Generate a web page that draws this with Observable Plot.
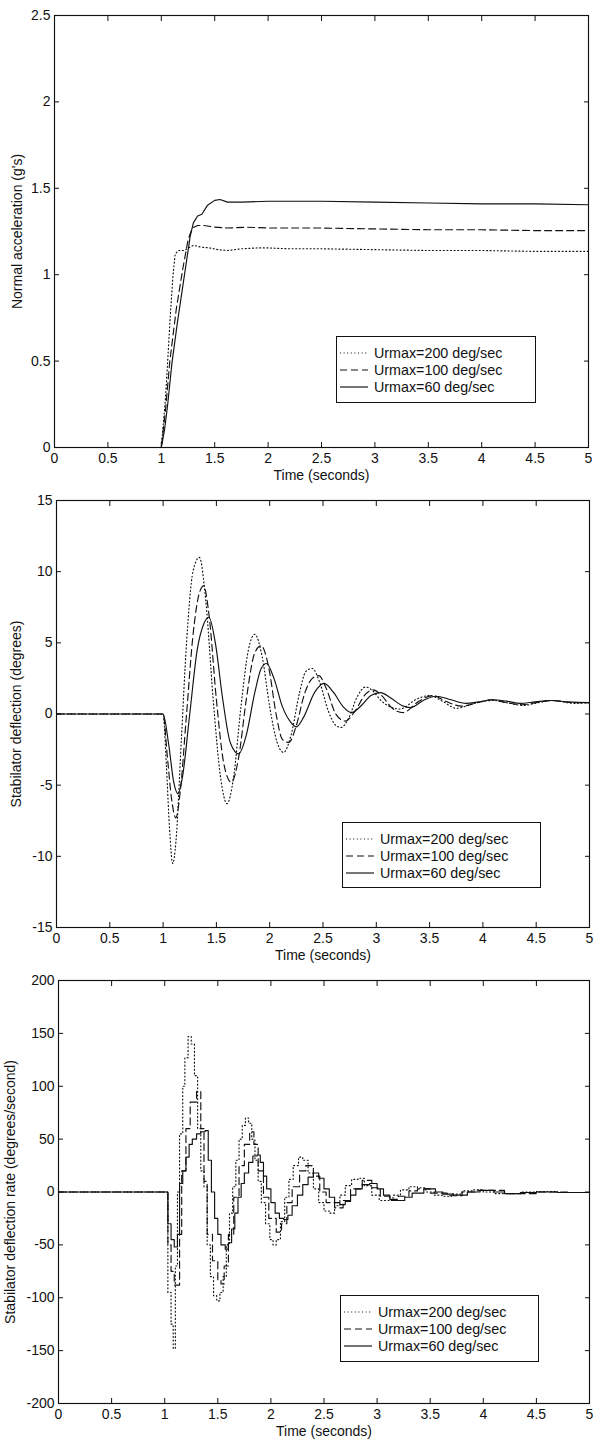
<!DOCTYPE html>
<html>
<head>
<meta charset="utf-8">
<script src="https://cdn.jsdelivr.net/npm/d3@7"></script>
<script src="https://cdn.jsdelivr.net/npm/@observablehq/plot@0.6"></script>
<style>
  html, body { margin: 0; padding: 0; background: #fff; }
  #wrap { width: 597px; }
  .panel { position: relative; width: 597px; }
  .panel + .panel { margin-top: -6px; }
  .panel svg { display: block; }
  .legend { position: absolute; background: #fff; border: 1px solid #111; box-sizing: border-box; }
  .legend svg { display: block; }
</style>
</head>
<body>
<div id="wrap"></div>
<script>
// ---------- tick values ----------
const xTicks = [0, 0.5, 1, 1.5, 2, 2.5, 3, 3.5, 4, 4.5, 5];
const accelTicks = [0, 0.5, 1, 1.5, 2, 2.5];
const deflTicks = [-15, -10, -5, 0, 5, 10, 15];
const rateTicks = [-200, -150, -100, -50, 0, 50, 100, 150, 200];
const seriesNames = ["Urmax=200 deg/sec", "Urmax=100 deg/sec", "Urmax=60 deg/sec"];

// ---------- panel 1: normal acceleration (g's) [time, value] ----------
const accel200 = [[0,0],[1.0,0],[1.04,0.29],[1.086,0.78],[1.11,1.0],[1.13,1.12],[1.16,1.14],[1.21,1.14],[1.3,1.17],[1.37,1.16],[1.45,1.155],[1.53,1.145],[1.62,1.14],[1.75,1.15],[1.9,1.155],[2.0,1.155],[2.2,1.15],[2.5,1.15],[3.0,1.145],[3.5,1.14],[4.0,1.14],[4.5,1.135],[5,1.135]];
const accel100 = [[0,0],[1.0,0],[1.04,0.22],[1.08,0.5],[1.14,0.8],[1.2,1.03],[1.25,1.2],[1.29,1.27],[1.34,1.285],[1.4,1.285],[1.5,1.275],[1.62,1.27],[1.8,1.275],[2.0,1.27],[2.5,1.27],[3.0,1.265],[3.5,1.26],[4.0,1.26],[4.5,1.255],[5,1.255]];
const accel60 = [[0,0],[1.0,0],[1.03,0.1],[1.06,0.25],[1.1,0.49],[1.15,0.72],[1.21,0.97],[1.27,1.22],[1.3,1.3],[1.34,1.34],[1.38,1.35],[1.43,1.4],[1.5,1.43],[1.55,1.435],[1.62,1.42],[1.75,1.42],[2.0,1.425],[2.5,1.425],[3.0,1.42],[3.5,1.415],[4.0,1.41],[4.5,1.41],[5,1.405]];

// ---------- panel 2: stabilator deflection (degrees) ----------
const defl200 = [[0,0],[1.0,0],[1.03,-3.5],[1.06,-8],[1.09,-10.5],[1.12,-9],[1.17,-2],[1.22,5],[1.28,10],[1.34,11],[1.4,8],[1.47,1],[1.54,-4.5],[1.6,-6.3],[1.66,-4.5],[1.73,0.5],[1.8,4.5],[1.86,5.6],[1.93,4],[2.0,0.5],[2.07,-2],[2.13,-2.7],[2.2,-1.5],[2.28,1.5],[2.34,3],[2.4,3.2],[2.47,2.2],[2.55,0.2],[2.62,-0.8],[2.67,-0.95],[2.74,-0.3],[2.82,1.2],[2.9,1.9],[2.97,1.6],[3.05,0.9],[3.22,0.35],[3.38,1.05],[3.5,1.3],[3.62,0.9],[3.75,0.4],[3.92,0.75],[4.09,0.95],[4.25,0.75],[4.38,0.6],[4.52,0.8],[4.66,0.95],[4.85,0.75],[5.0,0.8]];
const defl100 = [[0,0],[1.0,0],[1.04,-3],[1.08,-6],[1.12,-7.3],[1.16,-5.5],[1.22,0],[1.28,5.5],[1.34,8.5],[1.38,9],[1.43,7],[1.5,1],[1.57,-3.5],[1.64,-4.8],[1.71,-3],[1.78,1],[1.86,4.3],[1.92,4.8],[1.99,3.3],[2.06,0],[2.12,-1.8],[2.18,-2.0],[2.25,-0.8],[2.33,1.5],[2.4,2.5],[2.46,2.7],[2.53,1.8],[2.62,0],[2.71,-0.5],[2.8,0.2],[2.9,1.4],[2.97,1.7],[3.05,1.3],[3.15,0.4],[3.25,0.1],[3.4,0.9],[3.53,1.3],[3.65,0.9],[3.8,0.55],[3.95,0.8],[4.08,1.0],[4.22,0.8],[4.37,0.65],[4.5,0.8],[4.65,0.95],[4.85,0.8],[5,0.8]];
const defl60 = [[0,0],[1.0,0],[1.05,-2],[1.1,-4.8],[1.14,-5.6],[1.18,-4.5],[1.25,0],[1.32,4.5],[1.38,6.3],[1.43,6.8],[1.49,5],[1.56,1],[1.63,-2],[1.71,-2.8],[1.78,-1.5],[1.86,1.5],[1.92,3.2],[1.97,3.55],[2.04,2.5],[2.12,0.5],[2.2,-0.6],[2.25,-0.9],[2.32,-0.2],[2.42,1.5],[2.51,2.15],[2.6,1.5],[2.69,0.5],[2.77,0.1],[2.86,0.6],[2.95,1.3],[3.04,1.5],[3.14,1.1],[3.24,0.6],[3.32,0.45],[3.44,0.95],[3.56,1.25],[3.7,1.0],[3.84,0.75],[3.96,0.85],[4.09,1.0],[4.22,0.9],[4.35,0.75],[4.49,0.85],[4.63,0.95],[4.8,0.85],[5,0.8]];

// ---------- panel 3: stabilator deflection rate (degrees/second), sampled (step) ----------
const rate200 = [[0,0],[1.0,0],[1.03,-95],[1.06,-125],[1.08,-148],[1.1,-70],[1.12,0],[1.14,55],[1.17,100],[1.19,127],[1.22,147],[1.25,140],[1.28,110],[1.31,60],[1.34,20],[1.37,5],[1.4,-50],[1.43,-80],[1.46,-98],[1.49,-103],[1.52,-95],[1.55,-80],[1.58,-50],[1.61,-20],[1.64,5],[1.67,30],[1.7,50],[1.73,63],[1.76,70],[1.79,65],[1.82,50],[1.85,30],[1.88,10],[1.91,-10],[1.95,-30],[1.99,-45],[2.02,-50],[2.05,-45],[2.09,-28],[2.13,-5],[2.17,12],[2.21,25],[2.26,33],[2.3,30],[2.35,18],[2.4,3],[2.45,-10],[2.5,-18],[2.55,-20],[2.6,-13],[2.65,-3],[2.7,6],[2.76,12],[2.82,13],[2.88,6],[2.95,-3],[3.02,-8],[3.08,-8],[3.15,-3],[3.22,2],[3.3,5],[3.38,4],[3.46,0],[3.54,-3],[3.62,-4],[3.7,-2],[3.8,1],[3.9,2],[4.0,0],[4.1,-1.5],[4.2,-1.5],[4.35,0],[4.5,0.5],[4.7,-0.5],[5,-1]];
const rate100 = [[0,0],[1.0,0],[1.03,-50],[1.06,-75],[1.09,-88],[1.12,-88],[1.14,-40],[1.16,20],[1.2,60],[1.24,85],[1.3,95],[1.34,60],[1.37,10],[1.4,-40],[1.45,-65],[1.5,-83],[1.53,-87],[1.56,-70],[1.6,-40],[1.65,-5],[1.7,25],[1.75,45],[1.8,57],[1.84,45],[1.88,20],[1.93,-5],[1.98,-25],[2.05,-38],[2.1,-30],[2.15,-10],[2.2,5],[2.27,20],[2.33,25],[2.4,15],[2.46,0],[2.52,-10],[2.6,-15],[2.68,-8],[2.75,3],[2.86,11],[2.95,4],[3.03,-4],[3.12,-8],[3.2,-4],[3.3,1],[3.38,3],[3.5,-1],[3.66,-3.5],[3.8,0],[3.95,1.5],[4.2,-1.5],[4.5,0],[4.8,-0.5],[5,-1]];
const rate60 = [[0,0],[1.0,0],[1.03,-30],[1.06,-45],[1.09,-52],[1.12,-40],[1.14,8],[1.17,20],[1.2,33],[1.23,45],[1.26,50],[1.3,55],[1.34,57],[1.38,58],[1.41,30],[1.44,0],[1.47,-25],[1.5,-40],[1.53,-50],[1.57,-54],[1.6,-48],[1.63,-35],[1.66,-20],[1.69,-5],[1.72,8],[1.75,18],[1.79,28],[1.83,34],[1.87,35],[1.9,28],[1.93,15],[1.96,3],[2.0,-10],[2.04,-20],[2.08,-25],[2.12,-26],[2.16,-22],[2.2,-13],[2.25,-3],[2.3,7],[2.35,14],[2.4,18],[2.45,13],[2.5,3],[2.55,-5],[2.6,-10],[2.65,-12],[2.7,-9],[2.75,-3],[2.8,3],[2.86,7],[2.93,8],[3.0,3],[3.06,-3],[3.12,-7],[3.19,-8],[3.26,-5],[3.33,-1],[3.44,3],[3.55,0],[3.62,-2],[3.72,-3],[3.85,0],[3.97,1.5],[4.1,0],[4.2,-1.5],[4.35,-0.5],[4.5,0],[4.7,-0.5],[5,-1]];

// ---------- styling ----------
const INK = "#111";
const dashes = ["1,2.6", "7,4", null];
const FONT = "'Liberation Sans', Arial, Helvetica, sans-serif";

function panel({series, yDomain, yTicks, yLabel, height, mt, mb, ml, mr, curve, ylabelOffset, legend}) {
  const lines = series.map((s, i) => Plot.line(s, {
    x: d => d[0], y: d => d[1], stroke: INK, strokeWidth: 1.15,
    strokeDasharray: dashes[i], curve
  }));
  const chart = Plot.plot({
    width: 597, height,
    marginTop: mt, marginBottom: mb, marginLeft: ml, marginRight: mr,
    style: {fontFamily: FONT, fontSize: "14px", color: INK, background: "none"},
    x: {domain: [0, 5]},
    y: {domain: yDomain},
    marks: [
      ...lines,
      Plot.frame({stroke: INK, strokeWidth: 1.15}),
      Plot.axisX(xTicks, {anchor: "bottom", tickSize: -5, tickPadding: 11, tickFormat: d => String(d),
        label: "Time (seconds)", labelAnchor: "center", labelOffset: 32, labelArrow: "none", fontSize: 14}),
      Plot.axisX(xTicks, {anchor: "top", tickSize: -5, tickFormat: () => "", label: null}),
      Plot.axisY(yTicks, {anchor: "left", tickSize: -5, tickPadding: 9, tickFormat: d => String(d),
        label: yLabel, labelAnchor: "center", labelOffset: ylabelOffset, labelArrow: "none", fontSize: 14}),
      Plot.axisY(yTicks, {anchor: "right", tickSize: -5, tickFormat: () => "", label: null})
    ]
  });
  const div = document.createElement("div");
  div.className = "panel";
  div.appendChild(chart);

  // legend box
  const lg = document.createElement("div");
  lg.className = "legend";
  Object.assign(lg.style, {left: legend.left + "px", top: legend.top + "px", width: legend.w + "px", height: legend.h + "px"});
  const svg = d3.create("svg").attr("width", legend.w - 2).attr("height", legend.h - 2);
  seriesNames.forEach((name, i) => {
    const y = 16 + i * 17;
    svg.append("line").attr("x1", 3).attr("x2", 31).attr("y1", y).attr("y2", y)
      .attr("stroke", INK).attr("stroke-width", 1.15).attr("stroke-dasharray", dashes[i]);
    svg.append("text").attr("x", 37).attr("y", y).attr("dy", "0.35em")
      .attr("font-family", FONT).attr("font-size", 14.3).attr("fill", INK).text(name);
  });
  lg.appendChild(svg.node());
  div.appendChild(lg);
  return div;
}

const wrap = document.getElementById("wrap");
wrap.appendChild(panel({
  series: [accel200, accel100, accel60], yDomain: [0, 2.5], yTicks: accelTicks,
  yLabel: "Normal acceleration (g's)", height: 486, mt: 15, mb: 39, ml: 54, mr: 9,
  curve: "linear", ylabelOffset: 42,
  legend: {left: 336, top: 336, w: 200, h: 67}
}));
wrap.appendChild(panel({
  series: [defl200, defl100, defl60], yDomain: [-15, 15], yTicks: deflTicks,
  yLabel: "Stabilator deflection (degrees)", height: 486, mt: 20, mb: 39, ml: 56, mr: 8,
  curve: "monotone-x", ylabelOffset: 45,
  legend: {left: 342, top: 342, w: 199, h: 66}
}));
wrap.appendChild(panel({
  series: [rate200, rate100, rate60], yDomain: [-200, 200], yTicks: rateTicks,
  yLabel: "Stabilator deflection rate (degrees/second)", height: 484, mt: 20, mb: 41, ml: 58, mr: 8,
  curve: "step-after", ylabelOffset: 53,
  legend: {left: 340, top: 335, w: 199, h: 67}
}));
</script>
</body>
</html>
